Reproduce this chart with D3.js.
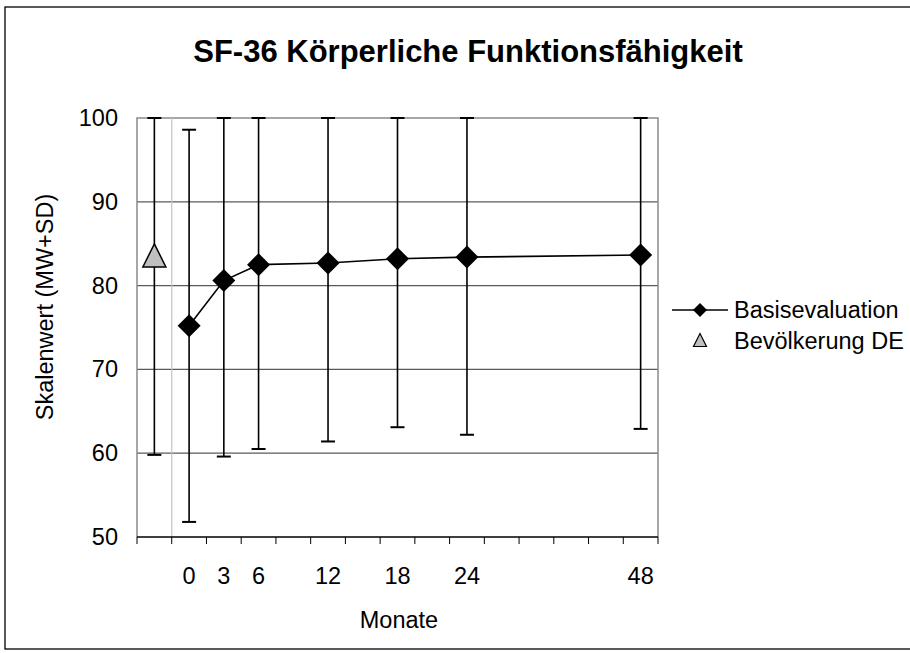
<!DOCTYPE html>
<html>
<head>
<meta charset="utf-8">
<script src="https://cdn.jsdelivr.net/npm/d3@7"></script>
<style>
  body { margin: 0; background: #fff; }
  text { font-family: "Liberation Sans", Arial, sans-serif; fill: #000; }
</style>
</head>
<body>
<script>
// category slots along the x axis (Excel style line chart, blank slots keep spacing)
var tickLabels = ['', '0', '3', '6', '', '12', '', '18', '', '24', '', '', '', '', '48'];
var months = ['0', '3', '6', '12', '18', '24', '48'];
var baseMean = [75.2, 80.6, 82.5, 82.7, 83.2, 83.4, 83.65];
var baseSD = [23.4, 21.0, 22.0, 21.3, 20.1, 21.2, 20.75];
var popMean = [83.6];
var popSD = [23.8];
var yTicks = [50, 60, 70, 80, 90, 100];

var W = 910, H = 653;
var plotLeft = 137, plotRight = 658, plotTop = 118, plotBottom = 537;
var fs = '23.5px';

var svg = d3.select('body').append('svg')
    .attr('width', W)
    .attr('height', H);

// outer chart border
svg.append('rect')
    .attr('x', 5).attr('y', 7)
    .attr('width', W + 10).attr('height', 642)
    .attr('fill', 'none').attr('stroke', '#000').attr('stroke-width', 1.3);

var x = d3.scaleBand()
    .domain(d3.range(tickLabels.length))
    .range([plotLeft, plotRight]);

var y = d3.scaleLinear()
    .domain([50, 100])
    .range([plotBottom, plotTop]);

function cx(i) { return x(i) + x.bandwidth() / 2; }

// gridlines
svg.append('g').selectAll('line')
    .data(yTicks.slice(1, -1))
    .enter().append('line')
    .attr('x1', plotLeft).attr('x2', plotRight)
    .attr('y1', function(d){ return y(d); })
    .attr('y2', function(d){ return y(d); })
    .attr('stroke', '#5a5a5a').attr('stroke-width', 1.2);

// plot frame (top, right, left in gray)
svg.append('path')
    .attr('d', 'M' + plotLeft + ',' + plotBottom + 'V' + plotTop + 'H' + plotRight + 'V' + plotBottom)
    .attr('fill', 'none').attr('stroke', '#8a8a8a').attr('stroke-width', 1.5);

// separator between population value and the follow-up months
svg.append('line')
    .attr('x1', x(1)).attr('x2', x(1))
    .attr('y1', plotTop).attr('y2', plotBottom)
    .attr('stroke', '#c4c4c4').attr('stroke-width', 1.2);

// x axis
svg.append('line')
    .attr('x1', plotLeft).attr('x2', plotRight)
    .attr('y1', plotBottom).attr('y2', plotBottom)
    .attr('stroke', '#000').attr('stroke-width', 1.3);
svg.append('g').selectAll('line')
    .data(d3.range(tickLabels.length + 1))
    .enter().append('line')
    .attr('x1', function(d){ return d < tickLabels.length ? x(d) : plotRight; })
    .attr('x2', function(d){ return d < tickLabels.length ? x(d) : plotRight; })
    .attr('y1', plotBottom).attr('y2', plotBottom + 7)
    .attr('stroke', '#000').attr('stroke-width', 1);

svg.append('g').selectAll('text')
    .data(tickLabels)
    .enter().append('text')
    .attr('x', function(d, i){ return cx(i); })
    .attr('y', 584)
    .attr('text-anchor', 'middle')
    .attr('font-size', fs)
    .text(function(d){ return d; });

// y axis labels
svg.append('g').selectAll('text')
    .data(yTicks)
    .enter().append('text')
    .attr('x', 118)
    .attr('y', function(d){ return y(d) + 8; })
    .attr('text-anchor', 'end')
    .attr('font-size', fs)
    .text(function(d){ return d; });

// error bars
function errorBars(idx, mean, sd) {
    var g = svg.append('g').attr('stroke', '#000').attr('stroke-width', 1.6);
    idx.forEach(function(c, i){
        var hi = y(Math.min(100, mean[i] + sd[i]));
        var lo = y(Math.max(50, mean[i] - sd[i]));
        g.append('line').attr('x1', cx(c)).attr('x2', cx(c)).attr('y1', hi).attr('y2', lo);
        g.append('line').attr('x1', cx(c) - 7).attr('x2', cx(c) + 7).attr('y1', hi).attr('y2', hi)
            .attr('stroke-width', 2);
        g.append('line').attr('x1', cx(c) - 7).attr('x2', cx(c) + 7).attr('y1', lo).attr('y2', lo)
            .attr('stroke-width', 2);
    });
}

var baseIdx = months.map(function(m){ return tickLabels.indexOf(m); });
errorBars([0], popMean, popSD);
errorBars(baseIdx, baseMean, baseSD);

// Basisevaluation line
var line = d3.line()
    .x(function(d, i){ return cx(baseIdx[i]); })
    .y(function(d){ return y(d); });
svg.append('path')
    .datum(baseMean)
    .attr('d', line)
    .attr('fill', 'none').attr('stroke', '#000').attr('stroke-width', 1.6);

var diamond = 'M0,-11.5L11.5,0L0,11.5L-11.5,0Z';
svg.append('g').selectAll('path')
    .data(baseMean)
    .enter().append('path')
    .attr('d', diamond)
    .attr('transform', function(d, i){ return 'translate(' + cx(baseIdx[i]) + ',' + y(d) + ')'; })
    .attr('fill', '#000');

// Bevölkerung DE triangle
var tri = 'M0,-11.5L11.5,11.5L-11.5,11.5Z';
svg.append('g').selectAll('path')
    .data(popMean)
    .enter().append('path')
    .attr('d', tri)
    .attr('transform', function(d){ return 'translate(' + cx(0) + ',' + y(d) + ')'; })
    .attr('fill', '#c0c0c0').attr('stroke', '#000').attr('stroke-width', 1.5);

// title
svg.append('text')
    .attr('x', 468).attr('y', 62)
    .attr('text-anchor', 'middle')
    .attr('font-size', '31px')
    .attr('font-weight', 'bold')
    .text('SF-36 Körperliche Funktionsfähigkeit');

// axis titles
svg.append('text')
    .attr('transform', 'translate(53,307) rotate(-90)')
    .attr('text-anchor', 'middle')
    .attr('font-size', fs)
    .text('Skalenwert (MW+SD)');

svg.append('text')
    .attr('x', 399).attr('y', 628)
    .attr('text-anchor', 'middle')
    .attr('font-size', fs)
    .text('Monate');

// legend
var lg = svg.append('g');
lg.append('line')
    .attr('x1', 672).attr('x2', 728).attr('y1', 310).attr('y2', 310)
    .attr('stroke', '#000').attr('stroke-width', 1.6);
lg.append('path')
    .attr('d', 'M0,-7L7,0L0,7L-7,0Z')
    .attr('transform', 'translate(700,310)')
    .attr('fill', '#000');
lg.append('path')
    .attr('d', 'M0,-6.5L6.5,6.5L-6.5,6.5Z')
    .attr('transform', 'translate(700,340)')
    .attr('fill', '#c0c0c0').attr('stroke', '#000').attr('stroke-width', 1.2);
lg.append('text')
    .attr('x', 734).attr('y', 318)
    .attr('font-size', fs)
    .text('Basisevaluation');
lg.append('text')
    .attr('x', 734).attr('y', 349)
    .attr('font-size', fs)
    .text('Bevölkerung DE');
</script>
</body>
</html>
